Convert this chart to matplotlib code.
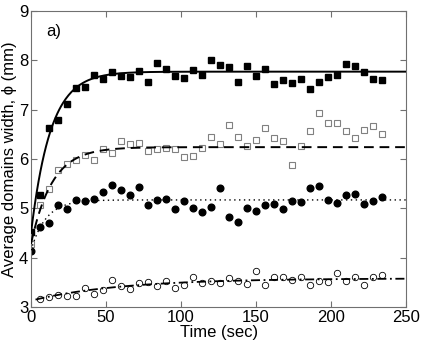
import numpy as np
import matplotlib
matplotlib.use('Agg')
import matplotlib.pyplot as plt

plt.rcParams['font.family'] = ['Liberation Sans', 'DejaVu Sans']

# sample times (sec)
t_sq = [0, 6, 12, 18, 24, 30, 36, 42, 48, 54, 60, 66, 72, 78, 84, 90, 96, 102, 108, 114,
        120, 126, 132, 138, 144, 150, 156, 162, 168, 174, 180, 186, 192, 198, 204, 210,
        216, 222, 228, 234]
t_circ = t_sq[1:]

# filled squares
w_fsq = [4.51, 5.28, 6.62, 6.80, 7.12, 7.44, 7.46, 7.71, 7.62, 7.77, 7.69, 7.66, 7.78,
         7.56, 7.94, 7.83, 7.69, 7.65, 7.80, 7.71, 8.01, 7.90, 7.86, 7.56, 7.88, 7.68,
         7.82, 7.52, 7.60, 7.53, 7.62, 7.41, 7.56, 7.67, 7.70, 7.92, 7.88, 7.77, 7.62, 7.60]
# open squares
w_osq = [4.28, 5.07, 5.40, 5.77, 5.89, 5.97, 6.09, 5.97, 6.21, 6.13, 6.36, 6.31, 6.32,
         6.17, 6.20, 6.22, 6.21, 6.04, 6.07, 6.23, 6.45, 6.30, 6.68, 6.45, 6.26, 6.38,
         6.63, 6.42, 6.36, 5.87, 6.27, 6.57, 6.93, 6.72, 6.72, 6.56, 6.42, 6.58, 6.66, 6.51]
# filled circles
w_fci = [4.14, 4.63, 4.71, 5.07, 4.99, 5.17, 5.15, 5.19, 5.33, 5.48, 5.37, 5.27, 5.44,
         5.06, 5.17, 5.18, 4.98, 5.15, 5.01, 4.92, 5.03, 5.41, 4.83, 4.72, 5.00, 4.95,
         5.06, 5.08, 4.98, 5.14, 5.13, 5.42, 5.46, 5.16, 5.11, 5.28, 5.30, 5.08, 5.14, 5.22]
# open circles
w_oci = [3.17, 3.21, 3.24, 3.23, 3.23, 3.38, 3.26, 3.35, 3.55, 3.42, 3.36, 3.49, 3.50,
         3.43, 3.53, 3.38, 3.45, 3.60, 3.48, 3.52, 3.49, 3.58, 3.53, 3.47, 3.72, 3.44,
         3.60, 3.61, 3.55, 3.61, 3.45, 3.53, 3.51, 3.68, 3.53, 3.61, 3.44, 3.61, 3.64]

# exponential fits: plateau, start value, time constant, start time
fit_plateau = [7.77, 6.24, 5.17, 3.58]
fit_start = [4.50, 4.28, 4.15, 3.15]
fit_tau = [13.0, 14.0, 10.0, 60.0]
fit_t0 = [0, 0, 0, 3]

fig = plt.figure(figsize=(4.22, 3.43), dpi=100)
ax = fig.add_axes([0.0735, 0.105, 0.889, 0.863])

styles = [dict(ls='-', lw=1.4), dict(ls=(0, (5, 3)), lw=1.4),
          dict(ls=(0, (1, 2.5)), lw=1.0), dict(ls=(0, (5, 2, 1, 2)), lw=1.3)]
for a, b, tau, t0, st in zip(fit_plateau, fit_start, fit_tau, fit_t0, styles):
    tt = np.linspace(t0, 250, 400)
    ax.plot(tt, a - (a - b) * np.exp(-(tt - t0) / tau), color='black', zorder=3, **st)

ax.plot(t_sq, w_fsq, 's', ms=4.0, mfc='black', mec='black', zorder=2)
ax.plot(t_sq, w_osq, 's', ms=3.8, mfc='white', mec='#808080', mew=0.8, zorder=2)
ax.plot(t_sq, w_fci, 'o', ms=4.8, mfc='black', mec='black', zorder=2)
ax.plot(t_circ, w_oci, 'o', ms=4.6, mfc='none', mec='black', mew=0.6, zorder=2)

ax.set_xlim(0, 250)
ax.set_ylim(3, 9)
ax.set_xticks([0, 50, 100, 150, 200, 250])
ax.set_yticks([3, 4, 5, 6, 7, 8, 9])
ax.tick_params(direction='in', top=True, right=True, length=4, labelsize=12,
               color='#707070', pad=2)
for sp in ax.spines.values():
    sp.set_color('#707070')
    sp.set_linewidth(0.8)
ax.set_xlabel('Time (sec)', fontsize=12, labelpad=0)
ax.set_ylabel('Average domains width, \u03d5 (mm)', fontsize=12, labelpad=1)
ax.text(0.04, 0.93, 'a)', transform=ax.transAxes, fontsize=12, va='center')

fig.savefig('out.png', dpi=100)
